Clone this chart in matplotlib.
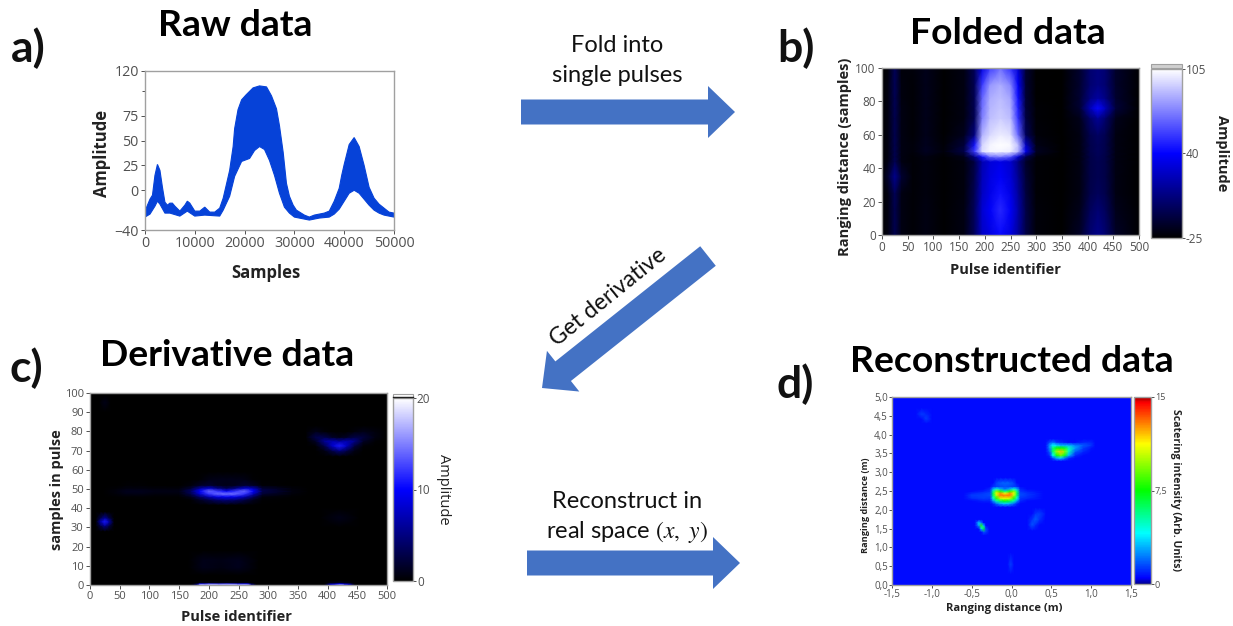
"""Four-panel pulse data figure: raw, folded, derivative, reconstructed."""
import matplotlib
matplotlib.use("Agg")
import matplotlib.pyplot as plt
from matplotlib.cm import ScalarMappable
from matplotlib.colors import LinearSegmentedColormap, Normalize
from matplotlib.patches import FancyArrow, Rectangle

plt.rcParams['font.family'] = ['Open Sans', 'DejaVu Sans']

W, H = 1233, 626
FRAME = '#a0a0a0'
TICK = '#505050'
ARROW = '#4472C4'

# =========================================
# a) raw data envelope
# =========================================
raw_upper_x = [0, 500, 1000, 1500, 2000, 2500, 3000, 3500, 4000, 4500, 5000, 5500, 6000, 7000, 8000,
               8500, 9000, 10000, 11000, 12000, 13000, 14000, 15000, 15700, 16400, 17000, 17700, 18000,
               18675, 19400, 20300, 21700, 23000, 24400, 25400, 26400, 27000, 27750, 28400, 29000, 29750,
               30400, 32000, 33000, 34000, 36000, 37000, 38000, 39000, 39500, 40000, 41000, 42000,
               43000, 44000, 45000, 46000, 47000, 48000, 49000, 50000]
raw_upper = [-21, -15, -9, -5, 15, 26, 20, 3, -12, -15, -13, -13, -16, -21, -15,
             -11, -13, -21, -21, -17, -22, -22, -18, -8, 7, 20, 44, 62,
             81, 91, 96, 103, 105, 104, 95, 82, 65, 38, 7, -6, -15,
             -20, -25, -27, -25, -23, -21, -11, 2, 15, 26, 46, 53,
             44, 25, 3, -8, -14, -18, -22, -23]
raw_lower_x = [0, 1000, 2000, 2500, 3000, 4000, 5000, 7000, 8500, 10000, 12000, 15000, 15700, 17000,
               18000, 19400, 21000, 22000, 23000, 24000, 25000, 26000, 27000, 28000, 29000,
               30000, 32000, 33000, 35000, 37000, 38000, 39000, 40000, 41000, 42000, 43000, 44000,
               45000, 46000, 47000, 48000, 50000]
raw_lower = [-27, -24, -16, -11, -14, -23, -23, -26, -21, -26, -25, -26, -20, -6,
             14, 29, 32, 40, 44, 41, 30, 15, -3, -17, -23,
             -27, -29, -30, -28, -27, -24, -19, -11, -3, 0, -3, -9,
             -15, -20, -23, -25, -27]
raw_xticks = [0, 10000, 20000, 30000, 40000, 50000]
raw_yticks = [-40, 0, 25, 50, 75, 120]

# =========================================
# b) folded data, values read on an uneven grid
# =========================================
fold_x = [0, 12, 25, 38, 60, 85, 120, 160, 180, 195, 210, 230, 250, 265, 280, 300, 350, 385, 405, 420, 435, 455, 500]
fold_y = [0, 15, 25, 35, 44, 47, 50, 54, 60, 70, 76, 82, 90, 100]
fold_z = [
    [-24, -20, -5, -20, -23, -20, -24, -20, -2, 25, 32, 42, 32, 15, -7, -22, -25, -15, 3, 10, 3, -15, -24],
    [-24, -20, -5, -20, -23, -20, -24, -20, -2, 28, 38, 50, 38, 18, -7, -22, -25, -18, -2, 4, -2, -18, -24],
    [-24, -20, -3, -20, -23, -21, -24, -21, -4, 24, 34, 44, 34, 15, -9, -23, -25, -20, -6, -2, -6, -20, -25],
    [-24, -12, 12, -12, -23, -21, -24, -21, -6, 22, 32, 38, 30, 12, -11, -23, -25, -20, -7, -4, -7, -20, -25],
    [-24, -19, -4, -20, -23, -21, -24, -21, -8, 20, 30, 34, 28, 8, -14, -23, -25, -20, -7, -4, -7, -20, -25],
    [-24, -20, -5, -20, -23, -20, -24, -18, 10, 45, 68, 72, 62, 28, -5, -22, -25, -20, -7, -3, -7, -20, -25],
    [-24, -20, -5, -20, -22, -16, -22, -6, 55, 96, 102, 102, 100, 85, 35, -16, -25, -20, -6, -2, -6, -20, -25],
    [-24, -20, -5, -20, -22, -17, -23, -10, 45, 94, 102, 105, 103, 88, 25, -19, -25, -20, -6, -2, -6, -20, -25],
    [-24, -20, -5, -20, -23, -18, -24, -17, 8, 85, 95, 100, 97, 66, -2, -22, -25, -20, -5, 0, -5, -20, -25],
    [-24, -20, -5, -20, -23, -18, -24, -20, -4, 72, 88, 92, 88, 52, -8, -23, -25, -18, 2, 14, 2, -18, -25],
    [-24, -20, -4, -20, -23, -18, -24, -20, -4, 68, 86, 90, 85, 48, -10, -23, -25, -12, 22, 42, 22, -10, -25],
    [-24, -20, -4, -21, -23, -18, -24, -20, -4, 65, 84, 88, 82, 44, -11, -24, -25, -12, 8, 16, 8, -13, -25],
    [-24, -20, -3, -21, -23, -18, -24, -20, -4, 55, 78, 84, 74, 38, -12, -24, -25, -13, 3, 8, 3, -14, -24],
    [-25, -22, -3, -22, -22, -18, -24, -20, -3, 32, 55, 68, 52, 28, -12, -24, -25, -13, 3, 7, 3, -14, -24],
]
pulse_ticks = [0, 50, 100, 150, 200, 250, 300, 350, 400, 450, 500]
fold_yticks = [0, 20, 40, 60, 80, 100]
fold_cticks = [-25, 40, 105]

# =========================================
# c) derivative data, small read-off regions on a black ground
# =========================================
deriv_band_x = [20, 45, 60, 85, 110, 150, 170, 185, 200, 215, 230, 245, 260, 275, 290, 340, 370]
deriv_band_y = [42, 44.5, 46, 47.5, 49, 50.5, 52, 55, 59]
deriv_band_z = [
    [0, 0, 0, 0, 0, 0, 0, 0.2, 0.4, 0.6, 0.8, 0.6, 0.4, 0.2, 0, 0, 0],
    [0, 0, 0, 0, 0, 0, 0.2, 1.5, 3, 4.5, 5, 4.5, 3, 1.2, 0.2, 0, 0],
    [0, 0.1, 0.2, 0.2, 0.1, 0.1, 1.2, 4, 7, 9, 9.5, 9, 7, 3.5, 0.5, 0.1, 0],
    [0, 0.4, 0.8, 0.8, 0.5, 0.5, 3, 8, 12, 14, 14.5, 14, 12, 7, 2, 0.4, 0],
    [0, 0.6, 1.1, 1.1, 0.8, 0.8, 4, 10, 14, 12, 9.5, 12, 14, 10, 3, 0.6, 0],
    [0, 0.3, 0.6, 0.6, 0.4, 0.4, 2, 6, 8, 5, 3, 5, 8, 7, 2, 0.4, 0],
    [0, 0, 0.2, 0.2, 0, 0, 0.5, 1.5, 2, 1.2, 1, 1.2, 2, 1.5, 0.3, 0, 0],
    [0, 0, 0, 0, 0, 0, 0, 0.2, 0.8, 1, 1, 1, 0.8, 0.2, 0, 0, 0],
    [0, 0, 0, 0, 0, 0, 0, 0, 0, 0, 0, 0, 0, 0, 0, 0, 0],
]
deriv_spot_x = [10, 18, 25, 32, 40]
deriv_spot_y = [28, 31, 33, 35, 38]
deriv_spot_z = [
    [0, 0, 0, 0, 0],
    [0, 3, 6, 3, 0],
    [0, 7, 11, 7, 0],
    [0, 3, 6, 3, 0],
    [0, 0, 0, 0, 0],
]
deriv_arc_x = [365, 380, 395, 408, 420, 432, 445, 460, 480, 500]
deriv_arc_y = [67, 70, 72.5, 75, 77, 80, 83]
deriv_arc_z = [
    [0, 0, 0, 0, 0, 0, 0, 0, 0, 0],
    [0, 0, 0.8, 3, 5, 3, 0.8, 0, 0, 0],
    [0, 0.2, 3, 8, 11, 7.5, 2.5, 0.3, 0, 0],
    [0, 1.5, 6, 7, 6, 7, 5.5, 1.5, 0.2, 0],
    [0.4, 3, 3, 1.5, 1, 1.5, 2.8, 2.4, 0.7, 0],
    [0.2, 1, 0.3, 0, 0, 0, 0.4, 1, 0.5, 0],
    [0, 0, 0, 0, 0, 0, 0, 0, 0, 0],
]
deriv_base_x = [170, 180, 185, 200, 230, 265, 272, 280, 395, 405, 420, 435, 445]
deriv_base_y = [0, 0.7, 1.3, 2]
deriv_base_z = [
    [0, 6, 20, 20, 20, 20, 6, 0, 0, 10, 19, 10, 0],
    [0, 3, 11, 13, 13, 11, 3, 0, 0, 6, 10, 6, 0],
    [0, 0, 0.8, 0.8, 0.8, 0.8, 0, 0, 0, 0.8, 1.5, 0.8, 0],
    [0, 0, 0, 0, 0, 0, 0, 0, 0, 0, 0, 0, 0],
]
deriv_faint_x = [165, 190, 220, 250, 285, 385, 420, 455]
deriv_faint_y = [5, 9, 13, 18, 30, 35, 40]
deriv_faint_z = [
    [0, 0, 0, 0, 0, 0, 0, 0],
    [0, 1, 0.7, 1.1, 0, 0, 0, 0],
    [0, 1, 0.8, 1.1, 0, 0, 0, 0],
    [0, 0, 0, 0, 0, 0, 0, 0],
    [0, 0, 0, 0, 0, 0, 0, 0],
    [0, 0, 0, 0, 0, 0, 1, 0],
    [0, 0, 0, 0, 0, 0, 0, 0],
]
deriv_top_x = [15, 25, 35]
deriv_top_y = [90, 95, 99]
deriv_top_z = [[0, 0, 0], [0, 1, 0], [0, 0, 0]]
deriv_yticks = [0, 10, 20, 30, 40, 50, 60, 70, 80, 90, 100]
deriv_cticks = [0, 10, 20]

# =========================================
# d) reconstructed data, small read-off regions on a blue ground
# =========================================
BG = 0.6
rec_crescent_x = [-0.6, -0.5, -0.35, -0.27, -0.23, -0.19, -0.14, -0.08, -0.02, 0.03, 0.07, 0.11, 0.2, 0.4]
rec_crescent_y = [2.08, 2.17, 2.24, 2.31, 2.38, 2.44, 2.5, 2.56, 2.62, 2.72, 2.85]
rec_crescent_z = [
    [BG] * 14,
    [BG, BG, BG, BG, 1, 2, 3, 3.5, 3, 2, 1, BG, BG, BG],
    [BG, BG, 0.9, 0.9, 2.5, 5, 6.5, 7.5, 6.5, 5, 2.5, 1, BG, BG],
    [BG, 1.1, 1.3, 1.2, 4.5, 8, 10.5, 11, 10.5, 8, 4.5, 1.2, 1, BG],
    [BG, 1.3, 1.4, 1.5, 6, 10, 12.8, 13, 12.8, 10, 6, 1.5, 1.2, BG],
    [BG, 1, 1.3, 1.5, 6.5, 11, 12.8, 11, 12.8, 11, 6.5, 1.5, 1.2, BG],
    [BG, BG, 0.9, 1.2, 5.5, 9.5, 8, 5.5, 8, 9.5, 5.5, 1.2, 0.9, BG],
    [BG, BG, BG, 1, 3, 4.5, 3, 2, 3, 4.5, 3, 1, BG, BG],
    [BG, BG, BG, BG, 1.2, 1.4, 1.5, 1.6, 1.5, 1.4, 1.2, BG, BG, BG],
    [BG, BG, BG, BG, BG, 1.4, 1.8, 1.9, 1.8, 1.4, BG, BG, BG, BG],
    [BG] * 14,
]
rec_hot_x = [0.43, 0.48, 0.52, 0.57, 0.62, 0.67, 0.72, 0.8, 0.9, 1.0, 1.05]
rec_hot_y = [3.3, 3.38, 3.45, 3.55, 3.65, 3.72, 3.8, 3.88]
rec_hot_z = [
    [BG] * 11,
    [BG, BG, 1.5, 3, 3.5, 2.2, 1, BG, BG, BG, BG],
    [BG, 1, 4, 7.5, 9, 7, 3, 1, BG, BG, BG],
    [BG, 1.8, 6, 10, 12, 9.5, 5, 1.8, 1, BG, BG],
    [BG, 2.5, 6, 7.5, 7.5, 7, 5, 2.7, 1.4, 0.8, BG],
    [BG, 2.6, 4, 3.5, 3, 3, 3, 2.3, 1.7, 1.2, BG],
    [BG, 1.5, 2, 1.2, 1, 0.8, BG, BG, 1, 1, BG],
    [BG] * 11,
]
rec_streak_x = [-0.46, -0.41, -0.38, -0.35, -0.32, -0.28]
rec_streak_y = [1.33, 1.42, 1.5, 1.58, 1.66, 1.73]
rec_streak_z = [
    [BG, BG, BG, BG, BG, BG],
    [BG, BG, BG, 1.8, 1.4, BG],
    [BG, BG, 3.5, 7, 1.5, BG],
    [BG, 2.5, 8, 3.5, BG, BG],
    [BG, 3.5, 2.5, BG, BG, BG],
    [BG, BG, BG, BG, BG, BG],
]
rec_wisp_x = [0.2, 0.26, 0.3, 0.35, 0.42]
rec_wisp_y = [1.45, 1.6, 1.75, 1.9, 2.05]
rec_wisp_z = [
    [BG, BG, BG, BG, BG],
    [BG, 1.6, 1.1, BG, BG],
    [BG, 1.2, 1.8, 1.2, BG],
    [BG, BG, 1.2, 1.4, 0.8],
    [BG, BG, BG, BG, BG],
]
rec_far_x = [-1.2, -1.13, -1.07, -1.0]
rec_far_y = [4.3, 4.42, 4.55, 4.7]
rec_far_z = [[BG, BG, BG, BG], [BG, BG, 1.3, BG], [BG, 1.3, 1, BG], [BG, BG, BG, BG]]
rec_low_x = [-0.05, -0.01, 0.03]
rec_low_y = [0.3, 0.55, 0.85]
rec_low_z = [[BG, BG, BG], [BG, 1.4, BG], [BG, BG, BG]]
rec_xticks = [-1.5, -1.0, -0.5, 0.0, 0.5, 1.0, 1.5]
rec_yticks = [0.0, 0.5, 1.0, 1.5, 2.0, 2.5, 3.0, 3.5, 4.0, 4.5, 5.0]
rec_cticks = [0, 7.5, 15]

blue_cmap = LinearSegmentedColormap.from_list('blackblue', ['black', '#0000ff', 'white'])
jet_cmap = LinearSegmentedColormap.from_list(
    'rec', [(0, '#00008b'), (0.03, '#0000ff'), (0.27, '#00ffff'), (0.5, '#00ff00'),
            (0.75, '#ffff00'), (0.97, '#ff0000'), (1, '#a00000')])


def comma(value):
    return f'{value:.1f}'.replace('.', ',')


def px_axes(fig, x0, y0, x1, y1):
    return fig.add_axes([x0 / W, 1 - y1 / H, (x1 - x0) / W, (y1 - y0) / H])


def style(ax, size):
    for spine in ax.spines.values():
        spine.set_color(FRAME)
        spine.set_linewidth(1.0)
    ax.tick_params(labelsize=size, labelcolor=TICK, color=TICK, length=3, width=0.7, pad=1.5)


def add_cbar(fig, box, cmap, norm, ticks, labels, size):
    cax = px_axes(fig, *box)
    cb = fig.colorbar(ScalarMappable(norm=norm, cmap=cmap), cax=cax, ticks=ticks)
    cb.ax.set_yticklabels(labels)
    cb.outline.set_edgecolor(FRAME)
    cb.outline.set_linewidth(1.0)
    cb.ax.tick_params(labelsize=size, labelcolor=TICK, color=TICK, length=2, width=0.7, pad=0.8)
    return cb


fig = plt.figure(figsize=(W / 100, H / 100), dpi=100, facecolor='white')

# =========================================
# Panel a
# =========================================
ax_a = px_axes(fig, 145, 71, 394, 230)
ax_a.fill(raw_upper_x + raw_lower_x[::-1], raw_upper + raw_lower[::-1], color='#0642D8', lw=0.8)
ax_a.set_xlim(0, 50000)
ax_a.set_ylim(-40, 120)
ax_a.set_xticks(raw_xticks)
ax_a.set_yticks(raw_yticks)
ax_a.set_yticks([100], minor=True)
ax_a.tick_params(which='minor', length=2, width=0.7, color=TICK)
style(ax_a, 10.3)

# =========================================
# Panel b
# =========================================
norm_b = Normalize(-25, 105)
ax_b = px_axes(fig, 882, 68, 1139, 235)
ax_b.pcolormesh(fold_x, fold_y, fold_z, shading='gouraud', cmap=blue_cmap, norm=norm_b)
ax_b.set_xlim(0, 500)
ax_b.set_ylim(0, 100)
ax_b.set_xticks(pulse_ticks)
ax_b.set_yticks(fold_yticks)
style(ax_b, 8.5)
add_cbar(fig, (1151, 69, 1182, 238), blue_cmap, norm_b, fold_cticks, ['-25', '40', '105'], 8.5)

# =========================================
# Panel c
# =========================================
norm_c = Normalize(0, 20)
ax_c = px_axes(fig, 90, 393, 387, 585)
ax_c.set_facecolor('black')
for x, y, z in [(deriv_band_x, deriv_band_y, deriv_band_z),
                (deriv_spot_x, deriv_spot_y, deriv_spot_z),
                (deriv_arc_x, deriv_arc_y, deriv_arc_z),
                (deriv_base_x, deriv_base_y, deriv_base_z),
                (deriv_faint_x, deriv_faint_y, deriv_faint_z),
                (deriv_top_x, deriv_top_y, deriv_top_z)]:
    ax_c.pcolormesh(x, y, z, shading='gouraud', cmap=blue_cmap, norm=norm_c)
ax_c.set_xlim(0, 500)
ax_c.set_ylim(0, 100)
ax_c.set_xticks(pulse_ticks)
ax_c.set_yticks(deriv_yticks)
style(ax_c, 8)
add_cbar(fig, (393, 398, 413, 581), blue_cmap, norm_c, deriv_cticks, ['0', '10', '20'], 8.5)

# =========================================
# Panel d
# =========================================
norm_d = Normalize(0, 15)
ax_d = px_axes(fig, 892, 397, 1131, 585)
ax_d.set_facecolor(jet_cmap(norm_d(BG)))
for x, y, z in [(rec_crescent_x, rec_crescent_y, rec_crescent_z),
                (rec_hot_x, rec_hot_y, rec_hot_z),
                (rec_streak_x, rec_streak_y, rec_streak_z),
                (rec_wisp_x, rec_wisp_y, rec_wisp_z),
                (rec_far_x, rec_far_y, rec_far_z),
                (rec_low_x, rec_low_y, rec_low_z)]:
    ax_d.pcolormesh(x, y, z, shading='gouraud', cmap=jet_cmap, norm=norm_d)
ax_d.set_xlim(-1.5, 1.5)
ax_d.set_ylim(0, 5)
ax_d.set_xticks(rec_xticks)
ax_d.set_xticklabels([comma(v) for v in rec_xticks])
ax_d.set_yticks(rec_yticks)
ax_d.set_yticklabels([comma(v) for v in rec_yticks])
style(ax_d, 7)
ax_d.tick_params(length=2, pad=1)
add_cbar(fig, (1134, 397, 1151, 584), jet_cmap, norm_d, rec_cticks, ['0', '7,5', '15'], 6.5)

# =========================================
# Overlay in picture pixels: arrows, titles, labels
# =========================================
over = fig.add_axes([0, 0, 1, 1], zorder=10)
over.set_xlim(0, W)
over.set_ylim(H, 0)
over.axis('off')

for x0, y0, x1, y1 in [(521, 112, 735, 112), (708, 256, 542, 388), (527, 563, 740, 563)]:
    over.add_patch(FancyArrow(x0, y0, x1 - x0, y1 - y0, width=25, head_width=52, head_length=27,
                              length_includes_head=True, color=ARROW, lw=0))

# colour bar caps above the top tick
over.add_patch(Rectangle((1151, 64), 31, 4, fc='#d0d0d0', ec=FRAME, lw=0.8))
over.add_patch(Rectangle((393, 394), 20, 3, fc='white', ec=FRAME, lw=0.8))
over.plot([393, 413], [397, 397], color='#202020', lw=1.0)

for s, x, y in [('Raw data', 235, 26), ('Folded data', 1008, 33),
                ('Derivative data', 227, 355), ('Reconstructed data', 1012, 362)]:
    over.text(x, y, s, fontsize=26.8, fontweight='bold', family='Lato', ha='center', va='center', color='black')
for s, x, y in [('a)', 28, 48), ('b)', 796, 48), ('c)', 26, 368), ('d)', 795, 384)]:
    over.text(x, y, s, fontsize=32, fontweight='bold', family='Lato', ha='center', va='center', color='#111111')

for s, x, y in [('Fold into', 617, 46), ('single pulses', 617, 76),
                ('Reconstruct in', 627, 501), (r'real space $(x,\ y)$', 627, 532)]:
    over.text(x, y, s, fontsize=17, family='Lato', ha='center', va='center', color='#111111',
              math_fontfamily='stix')
over.text(608, 297, 'Get derivative', fontsize=16.5, family='Lato', rotation=39, ha='center', va='center',
          rotation_mode='anchor', color='#111111')

# (text, x, y, size, rotation, weight)
axis_labels = [
    ('Samples', 266, 273, 12, 0, 'bold'),
    ('Amplitude', 102, 153, 12, 90, 'bold'),
    ('Pulse identifier', 1005, 270, 10.5, 0, 'bold'),
    ('Ranging distance (samples)', 845, 157, 10.5, 90, 'bold'),
    ('Amplitude', 1222, 153, 10.5, 270, 'bold'),
    ('Pulse identifier', 236, 617, 10.5, 0, 'bold'),
    ('samples in pulse', 57, 490, 10.5, 90, 'bold'),
    ('Amplitude', 444, 489, 10.5, 270, 'normal'),
    ('Ranging distance (m)', 1004, 609, 8, 0, 'bold'),
    ('Ranging distance (m)', 866, 505, 6.6, 90, 'bold'),
    ('Scatering intensity (Arb. Units)', 1175, 490, 7.6, 270, 'bold'),
]
for s, x, y, size, rot, weight in axis_labels:
    over.text(x, y, s, fontsize=size, rotation=rot, fontweight=weight, ha='center', va='center', color='#222222')

fig.savefig('out.png', dpi=100)
